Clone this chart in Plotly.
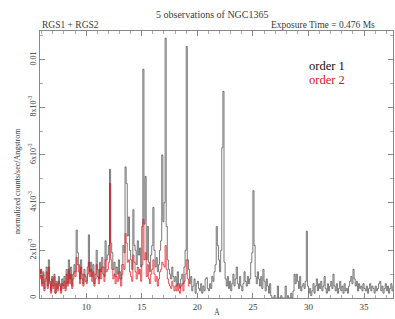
import plotly.graph_objects as go

# wavelength grid start and bin width (Angstrom)
x_start = 5.8
bin_width = 0.1

# order 1 (units of 1e-3 counts/sec/Angstrom), bins from 5.8 A
order1 = [
    0.9, 1.2,
    0.6, 1.1, 0.4, 0.8, 1.3, 0.5, 1.6, 0.7, 0.3, 0.9,
    0.5, 1.0, 0.2, 0.7, 0.4, 0.9, 0.6, 0.3, 0.8, 0.5,
    0.9, 0.4, 1.2, 0.6, 1.6, 0.8, 1.3, 0.5, 1.0, 1.4,
    1.1, 2.85, 1.9, 1.4, 0.8, 1.6, 1.0, 0.6, 1.2, 0.9,
    0.7, 1.3, 2.65, 1.1, 1.5, 0.9, 1.4, 0.6, 1.0, 2.0,
    1.2, 0.8, 1.5, 1.1, 1.7, 1.3, 0.9, 2.4, 1.6, 1.8,
    2.2, 5.4, 2.3, 1.9, 1.2, 1.5, 0.9, 1.3, 1.0, 1.6,
    1.1, 0.8, 1.4, 2.2, 1.9, 5.5, 4.8, 2.6, 3.4, 2.0,
    1.6, 1.2, 3.7, 2.2, 2.0, 1.4, 2.4, 1.8, 2.1, 1.3,
    3.0, 9.6, 3.1, 5.1, 1.6, 3.0, 1.5, 1.1, 1.8, 2.2,
    3.8, 2.0, 1.3, 1.7, 1.1, 1.4, 2.0, 2.4, 6.0, 3.2,
    4.0, 10.9, 3.0, 1.6, 1.2, 1.0, 0.8, 1.3, 0.9, 0.7,
    0.9, 0.5, 1.1, 0.6, 0.4, 0.8, 1.0, 0.6, 1.3, 2.0,
    10.55, 1.6, 1.2, 0.6, 0.9, 0.3, 0.5, 0.8, 0.2, 0.6,
    0.7, 0.4, 0.3, 0.6, 0.2, 0.5, 0.3, 0.8, 0.85, 0.4,
    0.3, 0.6, 0.4, 0.9, 0.7, 1.1, 1.4, 3.0, 2.2, 1.6,
    1.1, 2.0, 6.3, 8.67, 1.5, 0.8, 0.5, 0.9, 0.4, 0.7,
    0.3, 0.6, 1.0, 0.5, 0.8, 1.3, 0.6, 0.4, 0.9, 0.5,
    0.3, 0.6, 1.1, 0.7, 0.5, 0.9, 0.6, 0.8, 1.5, 1.9,
    4.5, 2.2, 0.9, 0.6, 1.1, 0.8, 0.5, 0.9, 0.4, 1.2,
    0.7, 0.3, 0.8, 0.5, 0.2, 0.6, 0.1, 0.0, 0.0, 0.1,
    0.0, 0.0, 0.5, 0.0, 0.0, 0.1, 0.0, 0.0, 0.0, 0.5,
    0.0, 0.1, 0.0, 0.0, 0.2, 0.0, 0.3, 1.0, 0.6, 1.0,
    0.7, 0.4, 0.9, 0.3, 0.5, 0.6, 0.4, 0.7, 2.8, 0.5,
    0.2, 0.4, 0.1, 0.3, 0.6, 0.2, 0.5, 0.8, 0.3, 0.6,
    0.4, 0.7, 0.3, 0.5, 0.9, 0.4, 0.2, 0.6, 0.3, 0.5,
    0.7, 0.4, 1.0, 0.5, 0.3, 0.6, 0.2, 0.4, 0.7, 0.3,
    0.5, 0.2, 0.6, 0.3, 0.4, 0.2, 0.5, 0.7, 0.9, 0.6,
    1.2, 0.8, 0.5, 0.7, 0.3, 0.6, 0.4, 0.5, 0.3, 0.6,
    0.4, 0.3, 0.5, 0.2, 0.4, 0.6, 0.3, 0.5, 0.4, 0.2,
    0.5, 0.3, 0.4, 0.6, 0.7, 0.3, 0.5, 0.2, 0.4, 0.6,
    0.3, 0.5, 0.2, 0.4, 0.6, 0.3, 0.5, 0.4, 0.2, 0.3,
]

# order 2 (units of 1e-3), bins from 5.8 A
order2 = [
    0.8, 1.2,
    0.5, 1.0, 0.3, 0.7, 1.1, 0.4, 1.3, 0.6, 0.2, 0.8,
    0.4, 0.9, 0.2, 0.6, 0.3, 0.7, 0.5, 0.2, 0.6, 0.4,
    0.7, 0.3, 1.0, 0.5, 1.2, 0.6, 1.0, 0.4, 0.8, 1.1,
    0.9, 1.7, 1.4, 1.1, 0.6, 1.3, 0.8, 0.5, 1.0, 0.7,
    0.6, 1.0, 1.5, 0.9, 1.2, 0.7, 1.1, 0.5, 0.8, 1.4,
    0.9, 0.6, 1.2, 0.8, 1.3, 1.0, 0.7, 1.6, 1.1, 1.2,
    1.5, 4.8, 1.6, 1.2, 0.8, 1.0, 0.6, 0.9, 0.7, 1.1,
    0.8, 0.5, 1.0, 1.4, 1.2, 2.7, 2.3, 1.5, 1.6, 1.1,
    0.9, 0.7, 1.8, 1.5, 1.1, 0.8, 1.3, 1.0, 1.2, 0.7,
    1.4, 3.3, 1.6, 1.9, 0.9, 1.4, 0.8, 0.6, 1.0, 1.2,
    1.6, 1.0, 0.7, 0.9, 0.5, 0.8, 1.1, 1.2, 1.5, 1.4,
    1.3, 2.2, 1.2, 0.8, 0.6, 0.5, 0.4, 0.7, 0.5, 0.3,
    0.5, 0.3, 0.6, 0.3, 0.2, 0.5, 0.6, 0.3, 0.7, 1.0,
    1.6, 0.8, 0.5,
]

y_tickvals = [0, 0.002, 0.004, 0.006, 0.008, 0.01]
y_ticktext = ["0", "2x10<sup>-3</sup>", "4x10<sup>-3</sup>", "6x10<sup>-3</sup>",
              "8x10<sup>-3</sup>", "0.01"]
x_tickvals = [10, 15, 20, 25, 30, 35]

def grid(vals):
    xs = [round(x_start + bin_width * i, 2) for i in range(len(vals) + 1)]
    ys = [v * 1e-3 for v in vals] + [vals[-1] * 1e-3]
    return xs, ys

x1, y1 = grid(order1)
x2, y2 = grid(order2)

FONT = "Liberation Serif"
TXT = "#3a3a3a"

fig = go.Figure()
fig.add_trace(go.Scatter(x=x1, y=y1, mode="lines", line=dict(color="#444444", width=0.7, shape="hv"),
                         showlegend=False))
fig.add_trace(go.Scatter(x=x2, y=y2, mode="lines", line=dict(color="#e00d12", width=0.7, shape="hv"),
                         showlegend=False))

fig.update_layout(
    width=395, height=319,
    margin=dict(l=40, r=2, t=31, b=21, autoexpand=False),
    paper_bgcolor="white", plot_bgcolor="white",
    font=dict(family=FONT, size=9, color=TXT),
    xaxis=dict(range=[5.85, 37.6], tickvals=x_tickvals, ticks="inside", ticklen=5,
               tickcolor="#888", showline=True, linecolor="#888", linewidth=1, mirror="ticks",
               showgrid=False, zeroline=False, tickfont=dict(size=9), automargin=False,
               minor=dict(dtick=1, tick0=0, ticks="inside", ticklen=3, tickcolor="#aaa")),
    yaxis=dict(range=[0, 0.0112], tickvals=y_tickvals, ticktext=y_ticktext, tickangle=-90,
               ticks="inside", ticklen=5, tickcolor="#888", showline=True, linecolor="#888",
               linewidth=1, mirror="ticks", showgrid=False, zeroline=False, tickfont=dict(size=8),
               automargin=False,
               minor=dict(dtick=0.001, tick0=0, ticks="inside", ticklen=3, tickcolor="#aaa")),
    annotations=[
        dict(text="5 observations of NGC1365", xref="paper", yref="paper", x=0.49, y=1,
             yshift=17, xanchor="center", yanchor="middle", showarrow=False,
             font=dict(size=10, color=TXT)),
        dict(text="RGS1 + RGS2", xref="paper", yref="paper", x=0, y=1, yshift=6,
             xanchor="left", yanchor="middle", showarrow=False, font=dict(size=9.5, color=TXT)),
        dict(text="Exposure Time = 0.476 Ms", xref="paper", yref="paper", x=1, y=1, yshift=6,
             xshift=-16, xanchor="right", yanchor="middle", showarrow=False,
             font=dict(size=9.5, color=TXT)),
        dict(text="order 1", xref="paper", yref="paper", x=0.813, y=0.868, xanchor="center",
             yanchor="middle", showarrow=False, font=dict(size=12.5, color="#111")),
        dict(text="order 2", xref="paper", yref="paper", x=0.813, y=0.818, xanchor="center",
             yanchor="middle", showarrow=False, font=dict(size=12.5, color="#d01818")),
        dict(text="Å", xref="paper", yref="paper", x=0.5, y=0, yshift=-14,
             xanchor="center", yanchor="middle", showarrow=False, font=dict(size=8, color=TXT)),
        dict(text="normalized counts/sec/Angstrom", xref="paper", yref="paper", x=0, y=0.438,
             xshift=-23, textangle=-90, xanchor="center", yanchor="middle", showarrow=False,
             font=dict(size=8, color=TXT)),
    ],
)

fig.write_html("out.html", config={"displayModeBar": False},
               post_script="document.body.style.margin='0';document.body.style.padding='0';")
